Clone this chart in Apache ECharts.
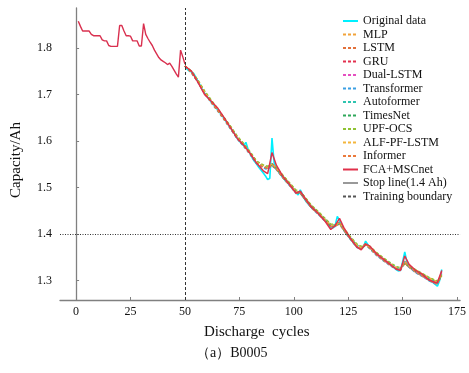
<!DOCTYPE html>
<html><head><meta charset="utf-8">
<script src="https://cdn.jsdelivr.net/npm/echarts@6/dist/echarts.min.js"></script>
<style>html,body{margin:0;padding:0;background:#fff}#c{width:469px;height:373px}</style>
</head><body><div id="c"></div>
<script>
// ---- DATA ----
const trainCycles = [1,2,3,4,5,6,7,8,9,10,11,12,13,14,15,16,17,18,19,20,21,22,23,24,25,26,27,28,29,30,31,32,33,34,35,36,37,38,39,40,41,42,43,44,45,46,47,48,49,50];
const trainCapacity = [1.857,1.846,1.836,1.836,1.836,1.836,1.829,1.826,1.826,1.826,1.826,1.817,1.815,1.815,1.805,1.803,1.803,1.803,1.803,1.848,1.848,1.836,1.826,1.826,1.825,1.815,1.815,1.815,1.804,1.804,1.852,1.829,1.820,1.812,1.805,1.795,1.787,1.779,1.774,1.771,1.768,1.764,1.767,1.760,1.752,1.744,1.737,1.795,1.781,1.765];

const testCycles = [50,51,52,53,54,55,56,57,58,59,60,61,62,63,64,65,66,67,68,69,70,71,72,73,74,75,76,77,78,79,80,81,82,83,84,85,86,87,88,89,90,91,92,93,94,95,96,97,98,99,100,101,102,103,104,105,106,107,108,109,110,111,112,113,114,115,116,117,118,119,120,121,122,123,124,125,126,127,128,129,130,131,132,133,134,135,136,137,138,139,140,141,142,143,144,145,146,147,148,149,150,151,152,153,154,155,156,157,158,159,160,161,162,163,164,165,166,167,168];
const originalData = [1.761,1.754,1.750,1.748,1.745,1.737,1.728,1.720,1.710,1.703,1.697,1.690,1.684,1.679,1.672,1.667,1.661,1.655,1.648,1.641,1.634,1.628,1.621,1.614,1.606,1.600,1.594,1.590,1.597,1.582,1.572,1.563,1.556,1.550,1.543,1.537,1.531,1.525,1.517,1.520,1.606,1.552,1.543,1.535,1.527,1.522,1.516,1.511,1.506,1.502,1.496,1.490,1.484,1.495,1.486,1.475,1.468,1.463,1.458,1.455,1.450,1.446,1.441,1.436,1.431,1.426,1.420,1.413,1.413,1.418,1.438,1.430,1.420,1.410,1.402,1.396,1.390,1.384,1.378,1.373,1.370,1.368,1.372,1.385,1.378,1.371,1.366,1.361,1.357,1.353,1.349,1.346,1.342,1.339,1.336,1.332,1.328,1.324,1.321,1.322,1.340,1.362,1.340,1.330,1.326,1.322,1.319,1.316,1.313,1.311,1.308,1.305,1.301,1.298,1.296,1.292,1.288,1.300,1.324];

const predCycles = [50,53,56,59,62,65,68,71,74,77,80,83,86,88,90,92,95,98,101,103,105,108,111,114,117,119,121,123,126,129,131,133,135,138,141,144,147,149,151,153,156,159,162,165,166,168];
const mlp        = [1.761,1.750,1.730,1.707,1.688,1.669,1.650,1.631,1.610,1.594,1.576,1.556,1.548,1.545,1.550,1.543,1.526,1.510,1.494,1.490,1.480,1.462,1.449,1.435,1.421,1.420,1.423,1.412,1.394,1.378,1.373,1.378,1.373,1.360,1.349,1.339,1.330,1.327,1.337,1.332,1.323,1.315,1.307,1.300,1.299,1.312];
const lstm       = [1.761,1.747,1.726,1.703,1.683,1.665,1.646,1.626,1.605,1.589,1.571,1.551,1.543,1.540,1.546,1.539,1.521,1.505,1.488,1.487,1.475,1.457,1.444,1.430,1.416,1.417,1.421,1.408,1.389,1.372,1.369,1.376,1.369,1.355,1.344,1.334,1.325,1.323,1.336,1.329,1.318,1.310,1.301,1.294,1.293,1.310];
const gru        = [1.761,1.749,1.729,1.705,1.686,1.668,1.649,1.629,1.608,1.592,1.574,1.553,1.544,1.541,1.552,1.542,1.524,1.508,1.491,1.491,1.478,1.460,1.447,1.433,1.417,1.419,1.426,1.411,1.392,1.375,1.371,1.380,1.372,1.358,1.347,1.337,1.327,1.325,1.342,1.333,1.321,1.313,1.304,1.297,1.295,1.318];
const dualLstm   = [1.761,1.748,1.727,1.704,1.684,1.666,1.647,1.627,1.606,1.590,1.572,1.552,1.545,1.543,1.549,1.540,1.522,1.506,1.489,1.489,1.476,1.458,1.445,1.431,1.417,1.418,1.424,1.409,1.390,1.373,1.370,1.378,1.370,1.356,1.345,1.335,1.326,1.324,1.340,1.330,1.319,1.311,1.302,1.295,1.294,1.316];
const transformer= [1.761,1.746,1.725,1.702,1.682,1.664,1.645,1.625,1.604,1.588,1.570,1.550,1.542,1.538,1.547,1.538,1.520,1.504,1.487,1.488,1.474,1.456,1.443,1.429,1.415,1.416,1.422,1.407,1.388,1.371,1.368,1.377,1.368,1.354,1.343,1.333,1.324,1.322,1.339,1.328,1.317,1.309,1.300,1.293,1.292,1.313];
const autoformer = [1.761,1.749,1.729,1.706,1.687,1.668,1.649,1.630,1.609,1.593,1.575,1.555,1.547,1.544,1.551,1.542,1.525,1.509,1.492,1.490,1.479,1.461,1.448,1.434,1.420,1.420,1.425,1.412,1.393,1.377,1.372,1.379,1.372,1.359,1.348,1.338,1.329,1.326,1.341,1.333,1.322,1.314,1.306,1.299,1.297,1.315];
const timesNet   = [1.761,1.747,1.727,1.703,1.684,1.666,1.647,1.627,1.606,1.590,1.572,1.553,1.546,1.542,1.548,1.540,1.522,1.506,1.489,1.488,1.476,1.458,1.445,1.431,1.417,1.418,1.423,1.409,1.390,1.374,1.370,1.377,1.370,1.356,1.345,1.335,1.326,1.324,1.338,1.330,1.320,1.312,1.303,1.296,1.295,1.313];
const upfOcs     = [1.761,1.750,1.731,1.708,1.689,1.670,1.651,1.632,1.611,1.595,1.577,1.557,1.549,1.546,1.550,1.544,1.527,1.511,1.495,1.491,1.481,1.463,1.450,1.436,1.422,1.421,1.424,1.413,1.395,1.379,1.374,1.378,1.374,1.361,1.350,1.340,1.331,1.328,1.336,1.333,1.324,1.316,1.308,1.301,1.300,1.310];
const alfPfLstm  = [1.761,1.748,1.728,1.705,1.686,1.667,1.648,1.629,1.608,1.592,1.574,1.554,1.546,1.543,1.551,1.541,1.524,1.508,1.491,1.490,1.478,1.460,1.447,1.433,1.419,1.419,1.424,1.411,1.392,1.376,1.371,1.379,1.371,1.358,1.347,1.337,1.328,1.325,1.341,1.332,1.321,1.313,1.305,1.298,1.296,1.317];
const informer   = [1.761,1.746,1.726,1.702,1.683,1.665,1.646,1.626,1.605,1.589,1.571,1.552,1.544,1.541,1.549,1.539,1.521,1.505,1.488,1.489,1.475,1.457,1.444,1.430,1.416,1.417,1.423,1.408,1.389,1.372,1.369,1.378,1.369,1.355,1.344,1.334,1.325,1.323,1.340,1.329,1.318,1.310,1.301,1.294,1.293,1.315];
const fcaMscnet  = [1.761,1.750,1.726,1.700,1.686,1.671,1.650,1.628,1.606,1.591,1.573,1.552,1.536,1.530,1.575,1.548,1.524,1.507,1.488,1.492,1.478,1.459,1.446,1.430,1.410,1.418,1.434,1.414,1.391,1.372,1.366,1.379,1.374,1.358,1.347,1.336,1.325,1.322,1.353,1.335,1.322,1.314,1.302,1.296,1.296,1.322];

const xTicks = [0,25,50,75,100,125,150,175];
const yTicks = [1.3,1.4,1.5,1.6,1.7,1.8];
const stopLine = 1.4;
const trainingBoundary = 50;

// ---- CHART ----
const FONT = '"Liberation Serif","Times New Roman",serif';
const zip = (xs, ys) => xs.map((x, i) => [x, ys[i]]);
const models = [
  ['MLP', mlp, '#f2a33a'],
  ['LSTM', lstm, '#e2703a'],
  ['GRU', gru, '#e3304f'],
  ['Dual-LSTM', dualLstm, '#e54fc0'],
  ['Transformer', transformer, '#3b9fe3'],
  ['Autoformer', autoformer, '#2ec4b0'],
  ['TimesNet', timesNet, '#2fa85a'],
  ['UPF-OCS', upfOcs, '#8fc232'],
  ['ALF-PF-LSTM', alfPfLstm, '#f4b63c'],
  ['Informer', informer, '#ea7a3c']
];
const series = [];
series.push({name:'train', type:'line', data: zip(trainCycles, trainCapacity), symbol:'none',
  lineStyle:{color:'#d9304f', width:1.4}, itemStyle:{color:'#d9304f'}, z:3});
series.push({name:'Original data', type:'line', data: zip(testCycles, originalData), symbol:'none',
  lineStyle:{color:'#00f0ff', width:1.6}, itemStyle:{color:'#00f0ff'}, z:2});
models.forEach(([n, d, c]) => series.push({name:n, type:'line', data: zip(predCycles, d), symbol:'none',
  lineStyle:{color:c, width:1.2, type:[3,2]}, itemStyle:{color:c}, z:3}));
series.push({name:'FCA+MSCnet', type:'line', data: zip(predCycles, fcaMscnet), symbol:'none',
  lineStyle:{color:'#e0304a', width:1.5}, itemStyle:{color:'#e0304a'}, z:4});
series.push({name:'Stop line(1.4 Ah)', type:'line', data: [], symbol:'none',
  lineStyle:{color:'#999', width:1}, itemStyle:{color:'#999'},
  markLine:{silent:true, symbol:'none', label:{show:false}, animation:false,
    lineStyle:{color:'#333', width:1, type:[1,1.5]}, data:[{yAxis: stopLine}]}});
series.push({name:'Training boundary', type:'line', data: [], symbol:'none',
  lineStyle:{color:'#555', width:1, type:[3,2]}, itemStyle:{color:'#555'},
  markLine:{silent:true, symbol:'none', label:{show:false}, animation:false,
    lineStyle:{color:'#333', width:1, type:[3,2]}, data:[{xAxis: trainingBoundary}]}});

const legendNames = ['Original data'].concat(models.map(m => m[0]), ['FCA+MSCnet','Stop line(1.4 Ah)','Training boundary']);

const chart = echarts.init(document.getElementById('c'), null, {renderer:'canvas'});
chart.setOption({
  animation:false,
  backgroundColor:'#fff',
  grid:{left:60, right:7, top:8, bottom:73},
  legend:{data:legendNames, orient:'vertical', left:337, top:10, itemWidth:15, itemHeight:8, itemGap:1.5,
    itemStyle:{opacity:0, color:'transparent', borderColor:'transparent', borderWidth:0},
    textStyle:{fontFamily:FONT, fontSize:12, color:'#111'}},
  xAxis:{type:'value', min:-7.4, max:176.4, splitLine:{show:false},
    axisLine:{show:true, lineStyle:{color:'#808080', width:1.3}},
    axisTick:{show:true, inside:true, length:3, customValues:xTicks, lineStyle:{color:'#808080'}},
    axisLabel:{customValues:xTicks, margin:6, fontFamily:FONT, fontSize:12, color:'#111'}},
  yAxis:{type:'value', min:1.2585, max:1.8855, splitLine:{show:false},
    axisLine:{show:true, lineStyle:{color:'#808080', width:1.3}},
    axisTick:{show:true, inside:true, length:3, customValues:yTicks, lineStyle:{color:'#808080'}},
    axisLabel:{customValues:yTicks, margin:8, fontFamily:FONT, fontSize:12, color:'#111', formatter:v => v.toFixed(1)}},
  graphic:[
    {type:'text', left:204, top:325, style:{text:'Discharge  cycles', font:'15px ' + FONT, fill:'#111'}},
    {type:'text', left:196, top:346, style:{text:'（a）B0005', font:'14px ' + FONT, fill:'#111'}},
    {type:'text', x:16, y:160, rotation:Math.PI/2, style:{text:'Capacity/Ah', font:'15px ' + FONT, fill:'#111', align:'center', verticalAlign:'middle'}}
  ],
  series:series
});
</script></body></html>
